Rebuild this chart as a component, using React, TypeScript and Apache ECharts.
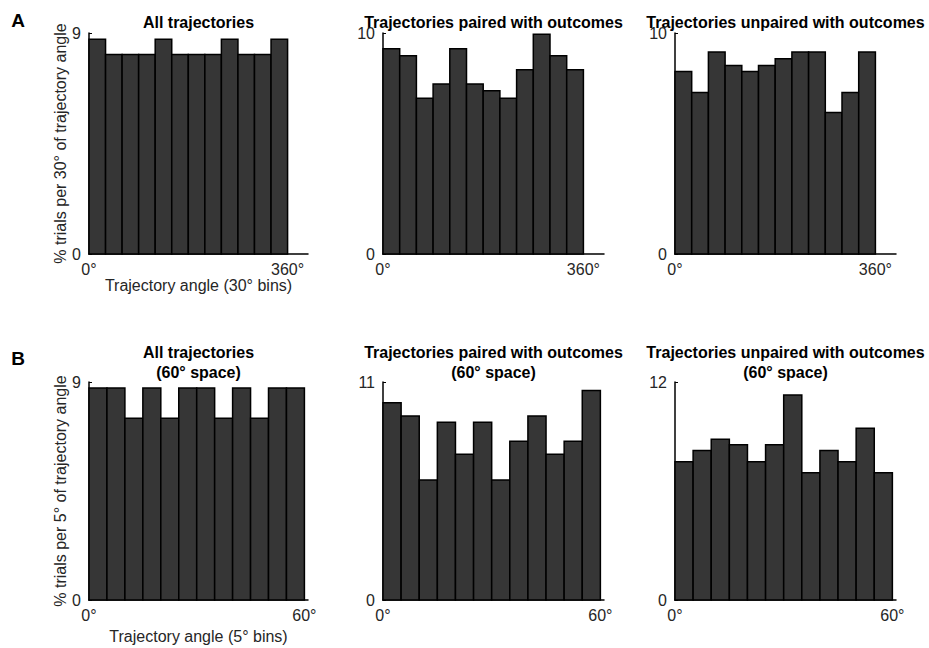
import React, { useEffect, useRef } from "react";
import * as echarts from "echarts";

// Bin edges (degrees)
const edgesA = [0, 30, 60, 90, 120, 150, 180, 210, 240, 270, 300, 330, 360];
const edgesB = [0, 5, 10, 15, 20, 25, 30, 35, 40, 45, 50, 55, 60];

// % trials per bin
const allA = [8.75, 8.125, 8.125, 8.125, 8.75, 8.125, 8.125, 8.125, 8.75, 8.125, 8.125, 8.75];
const pairedA = [9.29, 8.97, 7.05, 7.69, 9.29, 7.69, 7.39, 7.05, 8.34, 9.94, 8.97, 8.34];
const unpairedA = [8.26, 7.31, 9.14, 8.53, 8.26, 8.53, 8.84, 9.14, 9.14, 6.4, 7.31, 9.14];
const allB = [8.75, 8.75, 7.5, 8.75, 7.5, 8.75, 8.75, 7.5, 8.75, 7.5, 8.75, 8.75];
const pairedB = [9.95, 9.29, 6.06, 8.97, 7.36, 8.97, 6.06, 8.01, 9.29, 7.36, 8.01, 10.57];
const unpairedB = [7.61, 8.23, 8.85, 8.54, 7.61, 8.54, 11.29, 7.01, 8.23, 7.61, 9.45, 7.01];

// Axis limits / ticks
const yMaxA = [9, 10, 10];
const yMaxB = [9, 11, 12];
const xTicksA = [0, 360];
const xTicksB = [0, 60];

const titlesA = ["All trajectories", "Trajectories paired with outcomes", "Trajectories unpaired with outcomes"];
const titlesB = [
  "All trajectories\n(60° space)",
  "Trajectories paired with outcomes\n(60° space)",
  "Trajectories unpaired with outcomes\n(60° space)",
];
const yNameA = "% trials per 30° of trajectory angle";
const yNameB = "% trials per 5° of trajectory angle";
const xNameA = "Trajectory angle (30° bins)";
const xNameB = "Trajectory angle (5° bins)";

const FONT = "'Liberation Sans', Arial, Helvetica, sans-serif";
const TXT = "#262626";

export default function App() {
  const ref = useRef<HTMLDivElement>(null);
  useEffect(() => {
    if (!ref.current) return;
    const chart = echarts.init(ref.current, null, { renderer: "svg" });

    const colLeft = [89, 383, 675];
    const colWidth = [219, 221, 221];
    const rowTop = [33, 382];
    const rowHeight = [221, 218];

    const panels = [
      { row: 0, col: 0, edges: edgesA, vals: allA, ymax: yMaxA[0], xmax: 397, xt: xTicksA, title: titlesA[0], yName: yNameA, xName: xNameA, xGap: 19 },
      { row: 0, col: 1, edges: edgesA, vals: pairedA, ymax: yMaxA[1], xmax: 397, xt: xTicksA, title: titlesA[1] },
      { row: 0, col: 2, edges: edgesA, vals: unpairedA, ymax: yMaxA[2], xmax: 397, xt: xTicksA, title: titlesA[2] },
      { row: 1, col: 0, edges: edgesB, vals: allB, ymax: yMaxB[0], xmax: 61, xt: xTicksB, title: titlesB[0], yName: yNameB, xName: xNameB, xGap: 28 },
      { row: 1, col: 1, edges: edgesB, vals: pairedB, ymax: yMaxB[1], xmax: 61, xt: xTicksB, title: titlesB[1] },
      { row: 1, col: 2, edges: edgesB, vals: unpairedB, ymax: yMaxB[2], xmax: 61, xt: xTicksB, title: titlesB[2] },
    ] as any[];

    const grids: any[] = [];
    const xAxes: any[] = [];
    const yAxes: any[] = [];
    const series: any[] = [];
    const graphics: any[] = [];

    panels.forEach((p, i) => {
      grids.push({
        left: colLeft[p.col],
        top: rowTop[p.row],
        width: colWidth[p.col],
        height: rowHeight[p.row],
        containLabel: false,
      });
      const axisLine = { show: true, lineStyle: { color: "#000", width: 1.5 } };
      xAxes.push({
        type: "value",
        gridIndex: i,
        min: 0,
        max: p.xmax,
        interval: p.xt[1],
        splitLine: { show: false },
        axisLine: { ...axisLine, onZero: false },
        axisTick: { show: true, inside: true, length: 3, lineStyle: { color: "#000" }, customValues: p.xt },
        axisLabel: {
          customValues: p.xt,
          formatter: (v: number) => v + "°",
          color: TXT,
          fontFamily: FONT,
          fontSize: 16,
          margin: 7,
        },
        name: p.xName || "",
        nameLocation: "middle",
        nameGap: p.xGap || 20,
        nameTextStyle: { color: TXT, fontFamily: FONT, fontSize: 16 },
      });
      yAxes.push({
        type: "value",
        gridIndex: i,
        min: 0,
        max: p.ymax,
        interval: p.ymax,
        splitLine: { show: false },
        axisLine: { ...axisLine, onZero: false },
        axisTick: { show: true, inside: true, length: 3, lineStyle: { color: "#000" } },
        axisLabel: { color: TXT, fontFamily: FONT, fontSize: 16, margin: 8 },
        name: p.yName || "",
        nameLocation: "middle",
        nameGap: 21,
        nameTextStyle: { color: TXT, fontFamily: FONT, fontSize: 16 },
      });
      const data = p.vals.map((v: number, k: number) => [p.edges[k], p.edges[k + 1], v]);
      series.push({
        type: "custom",
        xAxisIndex: i,
        yAxisIndex: i,
        encode: { x: [0, 1], y: 2 },
        data,
        renderItem: (params: any, api: any) => {
          const x0 = api.value(0);
          const x1 = api.value(1);
          const y = api.value(2);
          const a = api.coord([x0, y]);
          const b = api.coord([x1, 0]);
          return {
            type: "rect",
            shape: { x: a[0], y: a[1], width: b[0] - a[0], height: b[1] - a[1] },
            style: { fill: "#363636", stroke: "#000", lineWidth: 1.5 },
          };
        },
      });
      const cx = colLeft[p.col] + colWidth[p.col] / 2;
      graphics.push({
        type: "text",
        x: cx,
        y: p.row === 0 ? 22 : 362,
        style: {
          text: p.title,
          font: `bold 16px ${FONT}`,
          fill: "#000",
          textAlign: "center",
          textVerticalAlign: "middle",
          lineHeight: 20,
        },
      });
    });

    graphics.push({
      type: "text",
      x: 18,
      y: 20,
      style: { text: "A", font: `bold 19px ${FONT}`, fill: "#000", textAlign: "center", textVerticalAlign: "middle" },
    });
    graphics.push({
      type: "text",
      x: 18,
      y: 358,
      style: { text: "B", font: `bold 19px ${FONT}`, fill: "#000", textAlign: "center", textVerticalAlign: "middle" },
    });

    chart.setOption({
      animation: false,
      backgroundColor: "#fff",
      grid: grids,
      xAxis: xAxes,
      yAxis: yAxes,
      series,
      graphic: graphics,
    });
    return () => chart.dispose();
  }, []);
  return <div ref={ref} style={{ position: "fixed", left: 0, top: 0, width: 929, height: 648 }} />;
}
